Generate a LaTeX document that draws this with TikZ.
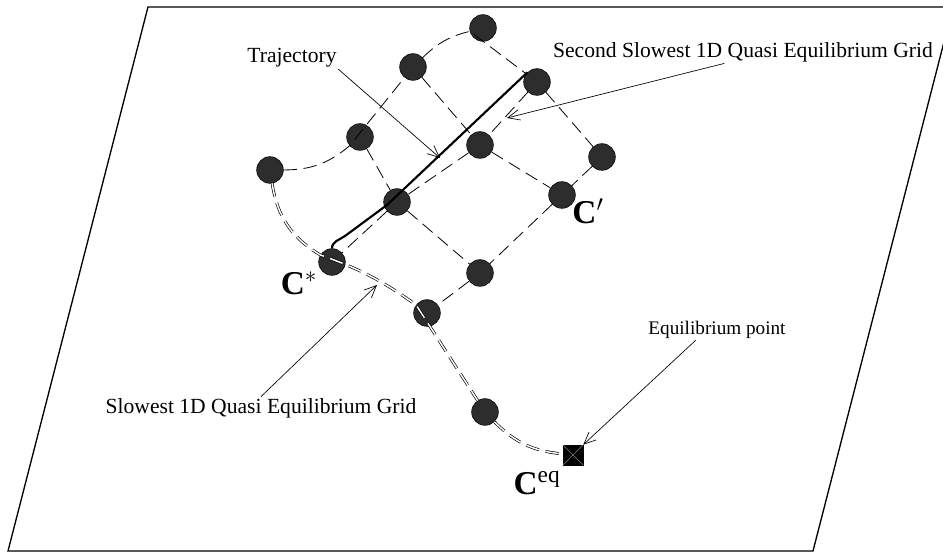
\documentclass[tikz,border=0pt]{standalone}
\usepackage{fontspec}
\setmainfont{Liberation Serif}
\usetikzlibrary{arrows.meta}
\definecolor{gridDark}{RGB}{45, 45, 45}

\begin{document}
\begin{tikzpicture}[x=0.75pt, y=0.75pt,
    qe/.style={circle, draw=black, fill=gridDark, minimum size=20pt, inner sep=0pt},
    grd/.style={dash pattern=on 10pt off 5pt, line width=0.6pt},
    slow/.style={dash pattern=on 10pt off 5pt, double, double distance=1.1pt, line width=0.5pt},
    traj/.style={line width=1.6pt, line join=round},
    lbl/.style={font=\fontsize{14.4}{16}\selectfont, inner sep=1pt},
    lblwide/.style={font=\fontsize{16.2}{18}\selectfont, inner sep=1pt},
    cname/.style={font=\fontsize{25}{27}\selectfont, inner sep=0pt},
    pointer/.style={-{Straight Barb[length=9pt, width=8pt]}, line width=0.5pt}]
      \useasboundingbox (0,0) rectangle (943,552);
      \begin{scope}
        \clip (0,0) rectangle (943,552);
        \draw[line width=1pt] (8,1) -- (148,545) -- (953,545) -- (813,1) -- cycle;
      \end{scope}

      \node[qe] (p1) at (483,524) {};
      \node[qe] (p2) at (413,485) {};
      \node[qe] (p3) at (537,470) {};
      \node[qe] (p4) at (360,415) {};
      \node[qe] (p5) at (480,407) {};
      \node[qe] (p6) at (602,395) {};
      \node[qe] (p7) at (270,382) {};
      \node[qe] (p8) at (397,350) {};
      \node[qe] (cprime) at (562,357) {};
      \node[qe] (cstar) at (332,290) {};
      \node[qe] (p9) at (480,279) {};
      \node[qe] (p10) at (427,239) {};
      \node[qe] (p11) at (485,140) {};
      \node[draw, fill=black, minimum size=15pt, inner sep=0pt] (ceq) at (573,97) {};
      \draw[gray, line width=0.3pt] (ceq.north west) -- (ceq.south east) (ceq.north east) -- (ceq.south west);

      \draw[grd] (p7) to[bend right=20] (p4) -- (p2) to[bend left=15] (p1) -- (p3) -- (p6) -- (cprime) -- (p9) -- (p10);
      \draw[grd] (p2) -- (p5) -- (cprime);
      \draw[grd] (p4) -- (p8) -- (p9);
      \draw[grd] (p3) -- (p5) -- (p8) -- (cstar);

      \draw[slow] (p7) to[bend right=25] (cstar) to[bend left=8] (p10) -- (p11) to[bend right=20] (ceq);

      \coordinate (tk) at (387,347);
      \coordinate (tb) at (345,316);
      \draw[traj] (p3.north west) -- (tk) -- (tb) to[out=215, in=90] (cstar.north);

      \node[lblwide] (trajlbl) at (292,494) {Trajectory};
      \node[lblwide] (seclbl) at (743,500) {Second Slowest 1D Quasi Equilibrium Grid};
      \node[lblwide] (slwlbl) at (261,144) {Slowest 1D Quasi Equilibrium Grid};
      \node[lbl] (eqlbl) at (717,222) {Equilibrium point};

      \coordinate (trajtip) at (440,394);
      \coordinate (sectip) at (507,434);
      \coordinate (slwtip) at (377,267);
      \draw[pointer] (trajlbl.south east) -- (trajtip);
      \draw[pointer] ([xshift=-14pt]seclbl.south) -- (sectip);
      \draw[pointer] (slwlbl.north) -- (slwtip);
      \draw[pointer] ([xshift=-16pt]eqlbl.south) -- (ceq.north east);

      \node[cname] (cstarlbl) at (299,269) {\textbf{C}$^{*}$};
      \node[cname] (cprimelbl) at (588,341) {\textbf{C}$'$};
      \node[cname] (ceqlbl) at (537,69) {\textbf{C}\textsuperscript{eq}};
\end{tikzpicture}
\end{document}
